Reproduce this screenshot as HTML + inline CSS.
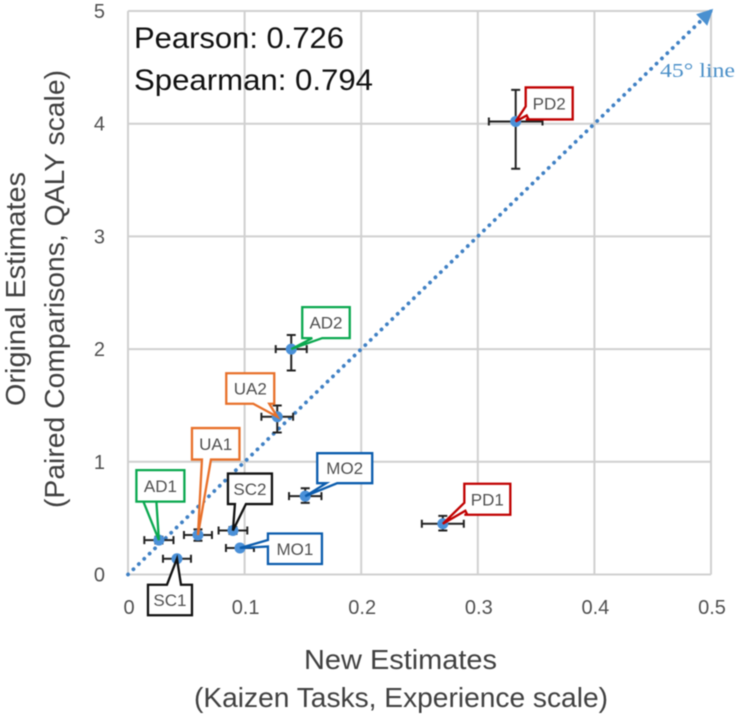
<!DOCTYPE html>
<html lang="en">
<head>
<meta charset="utf-8">
<title>Original vs New Estimates</title>
<style>
html,body{margin:0;padding:0;background:#fff;width:738px;height:718px;overflow:hidden}
svg{display:block;filter:blur(.5px)}
text{font-family:"Liberation Sans",sans-serif}
</style>
</head>
<body>
<svg id="chart" width="738" height="718" viewBox="0 0 738 718" xmlns="http://www.w3.org/2000/svg">
  <defs>
    <marker id="arrow-head" markerUnits="userSpaceOnUse" markerWidth="22" markerHeight="22" refX="13" refY="8" orient="auto">
      <path d="M0,0 L16,8 L0,16 Z" fill="#4a90d0"></path>
    </marker>
  </defs>
  <g id="grid"></g>
  <g id="ticks"></g>
  <line id="diag" stroke="#3f80c4" stroke-width="3.8" stroke-linecap="round" stroke-dasharray="0.1 7.4" marker-end="url(#arrow-head)"></line>
  <g id="errors"></g>
  <g id="points"></g>
  <g id="callouts"></g>
  <text x="660" y="77" font-size="20" fill="#4a8fc8" style="font-family:'Liberation Serif',serif" textLength="75" lengthAdjust="spacingAndGlyphs">45° line</text>
  <text x="134" y="48" font-size="30" fill="#111" textLength="210" lengthAdjust="spacingAndGlyphs">Pearson: 0.726</text>
  <text x="134" y="90" font-size="30" fill="#111" textLength="239" lengthAdjust="spacingAndGlyphs">Spearman: 0.794</text>
  <text x="304" y="669" font-size="28" fill="#404040" textLength="193" lengthAdjust="spacingAndGlyphs">New Estimates</text>
  <text x="194" y="707" font-size="28" fill="#404040" textLength="414" lengthAdjust="spacingAndGlyphs">(Kaizen Tasks, Experience scale)</text>
  <text transform="translate(25,406) rotate(-90)" font-size="28" fill="#404040" textLength="234" lengthAdjust="spacingAndGlyphs">Original Estimates</text>
  <text transform="translate(64,508) rotate(-90)" font-size="28" fill="#404040" textLength="438" lengthAdjust="spacingAndGlyphs">(Paired Comparisons, QALY scale)</text>
</svg>
<script>
const xTicks = ["0", "0.1", "0.2", "0.3", "0.4", "0.5"];
const yTicks = ["0", "1", "2", "3", "4", "5"];
const diagonalStart = [0, 0];
const diagonalEnd = [0.5, 5];
const names = ["AD1", "SC1", "UA1", "SC2", "MO1", "UA2", "AD2", "MO2", "PD1", "PD2"];
const newEstimates = [0.0265, 0.042, 0.06, 0.09, 0.096, 0.128, 0.14, 0.152, 0.27, 0.3325];
const originalEstimates = [0.305, 0.14, 0.35, 0.39, 0.235, 1.4, 2.0, 0.695, 0.45, 4.02];
const xErrors = [0.0125, 0.012, 0.012, 0.0123, 0.012, 0.0136, 0.0133, 0.0139, 0.018, 0.023];
const yErrorsUp = [0.03, 0.02, 0.05, 0.03, 0.02, 0.1, 0.125, 0.07, 0.07, 0.28];
const yErrorsDown = [0.03, 0.02, 0.05, 0.03, 0.02, 0.14, 0.19, 0.06, 0.06, 0.42];
const groupColors = {AD: "#0aa84f", SC: "#111111", UA: "#e8702a", MO: "#0b5cad", PD: "#c00000"};

const NS = "http://www.w3.org/2000/svg";
const plot = {left: 128, right: 711, top: 11, bottom: 574.5, xMax: 0.5, yMax: 5};
function xScale(v) { return plot.left + (v / plot.xMax) * (plot.right - plot.left); }
function yScale(v) { return plot.bottom - (v / plot.yMax) * (plot.bottom - plot.top); }
function make(tag, attrs, parent) {
  const el = document.createElementNS(NS, tag);
  for (const k in attrs) el.setAttribute(k, attrs[k]);
  parent.appendChild(el);
  return el;
}

const gridG = document.getElementById("grid");
const tickG = document.getElementById("ticks");
xTicks.forEach(function (t) {
  const v = parseFloat(t);
  const line = make("line", {x1: xScale(v), x2: xScale(v), y1: plot.top, y2: plot.bottom, stroke: "#d0d0d0", "stroke-width": 2}, gridG);
  
  
  const label = make("text", {x: xScale(v) + 1, y: 614, "font-size": 20, fill: "#505050", "text-anchor": "middle"}, tickG);
  label.textContent = t;
  
  
});
yTicks.forEach(function (t) {
  const v = parseFloat(t);
  const line = make("line", {x1: plot.left, x2: plot.right, y1: yScale(v), y2: yScale(v), stroke: "#d0d0d0", "stroke-width": 2}, gridG);
  
  
  const label = make("text", {x: 105, y: yScale(v) + 7, "font-size": 20, fill: "#505050", "text-anchor": "end"}, tickG);
  label.textContent = t;
  
  
});

const diag = document.getElementById("diag");
diag.setAttribute("x1", xScale(diagonalStart[0]));
diag.setAttribute("y1", yScale(diagonalStart[1]));
diag.setAttribute("x2", xScale(diagonalEnd[0]));
diag.setAttribute("y2", yScale(diagonalEnd[1]));

const errG = document.getElementById("errors");
const ptG = document.getElementById("points");
const callG = document.getElementById("callouts");

/* callout box geometry, expressed as offsets from the point it annotates:
   dx,dy = box top-left from point; w,h = box size; b = pointer base on box outline */
const calloutLayout = {
  AD1: {dx: -22.5, dy: -70, w: 48, h: 31.5, b: [[7, 31.5], [20, 31.5]]},
  SC1: {dx: -29, dy: 26, w: 44, h: 30.5, b: [[33, 0], [19, 0]]},
  UA1: {dx: -6, dy: -107, w: 47.5, h: 31.5, b: [[19, 31.5], [10, 31.5]]},
  SC2: {dx: -5, dy: -57, w: 44, h: 30.5, b: [[18, 30.5], [7, 30.5]]},
  MO1: {dx: 28, dy: -14.5, w: 54, h: 30.5, b: [[0, 13], [0, 6.5]]},
  UA2: {dx: -51, dy: -43.5, w: 48, h: 30.5, b: [[43, 30.5], [27, 30.5]]},
  AD2: {dx: 11, dy: -42, w: 47.5, h: 31, b: [[20, 31], [10, 31]]},
  MO2: {dx: 12, dy: -43, w: 55, h: 30, b: [[20, 30], [9, 30]]},
  PD1: {dx: 21.5, dy: -40, w: 46, h: 31, b: [[0, 19], [0, 31]]},
  PD2: {dx: 10, dy: -34, w: 47, h: 32, b: [[0, 19], [0, 32]]}
};

names.forEach(function (name, i) {
  const cx = xScale(newEstimates[i]);
  const cy = yScale(originalEstimates[i]);
  const xl = xScale(newEstimates[i] - xErrors[i]);
  const xr = xScale(newEstimates[i] + xErrors[i]);
  const yt = yScale(originalEstimates[i] + yErrorsUp[i]);
  const yb = yScale(originalEstimates[i] - yErrorsDown[i]);

  const err = make("path", {
    d: "M" + xl + " " + cy + "H" + xr +
       "M" + xl + " " + (cy - 4) + "V" + (cy + 4) +
       "M" + xr + " " + (cy - 4) + "V" + (cy + 4) +
       "M" + cx + " " + yt + "V" + yb +
       "M" + (cx - 4.5) + " " + yt + "H" + (cx + 4.5) +
       "M" + (cx - 4.5) + " " + yb + "H" + (cx + 4.5),
    fill: "none", stroke: "#222", "stroke-width": 2
  }, errG);
  
  

  const pt = make("circle", {cx: cx, cy: cy, r: 5.5, fill: "#4a90d8"}, ptG);
  
  

  const L = calloutLayout[name];
  const color = groupColors[name.slice(0, 2)];
  const bx = cx + L.dx, by = cy + L.dy;
  const b0 = [bx + L.b[0][0], by + L.b[0][1]];
  const b1 = [bx + L.b[1][0], by + L.b[1][1]];
  const corners = [[bx, by], [bx + L.w, by], [bx + L.w, by + L.h], [bx, by + L.h]];
  /* insert pointer on the side where the base sits */
  let pts;
  const tip = [cx, cy];
  if (L.b[0][1] === L.h && L.b[1][1] === L.h) {
    pts = [corners[0], corners[1], corners[2], b0, tip, b1, corners[3]];
  } else if (L.b[0][1] === 0) {
    pts = [corners[0], b1, tip, b0, corners[1], corners[2], corners[3]];
  } else if (L.b[0][0] === 0 && L.b[1][1] === L.h) {
    pts = [corners[0], corners[1], corners[2], corners[3], [bx + 3, by + L.h], [bx + 1, by + L.h - 4], tip, b0];
  } else {
    pts = [corners[0], corners[1], corners[2], corners[3], b0, tip, b1];
  }
  const poly = make("polygon", {
    points: pts.map(function (p) { return p[0] + "," + p[1]; }).join(" "),
    fill: "#fff", stroke: color, "stroke-width": 2.3, "stroke-linejoin": "miter"
  }, callG);
  
  
  const label = make("text", {
    x: bx + L.w / 2, y: by + L.h / 2 + 6, "font-size": 17, fill: "#505050", "text-anchor": "middle"
  }, callG);
  label.textContent = name;
  
  
});
</script>
</body>
</html>
